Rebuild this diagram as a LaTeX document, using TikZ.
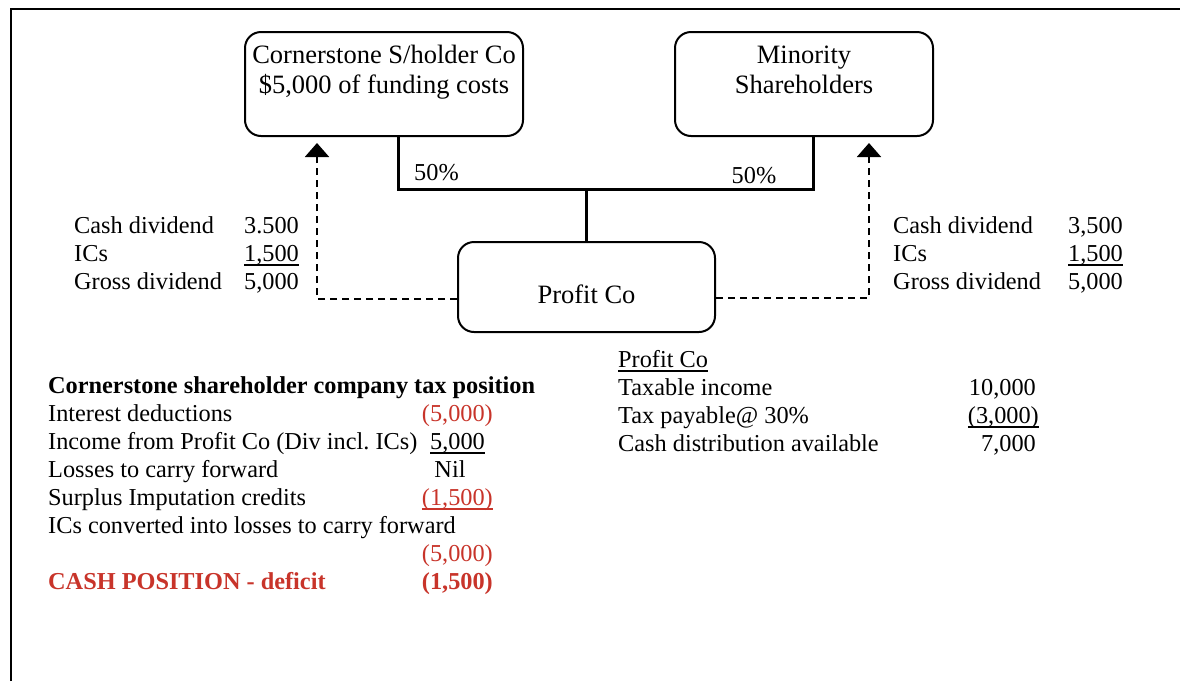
\documentclass[tikz,border=0pt]{standalone}
\usepackage{fontspec}
\setmainfont{Liberation Serif}
\usetikzlibrary{arrows.meta}
\definecolor{accred}{RGB}{200,52,42}
\frenchspacing
\newcommand{\myul}[1]{\setbox0\hbox{#1}\rlap{\rule[-4.5pt]{\wd0}{1.8pt}}\box0}
\begin{document}
\begin{tikzpicture}[x=1pt,y=-1pt,
  txt/.style={inner sep=0pt, font=\fontsize{24.3}{28}\selectfont\frenchspacing},
  lt/.style={txt, anchor=base west},
  rt/.style={txt, anchor=base east},
  ct/.style={txt, anchor=base},
  box/.style={draw, line width=2pt, rounded corners=16pt},
  boxtxt/.style={inner sep=0pt, anchor=base, font=\fontsize{26.5}{30}\selectfont},
  own/.style={line width=3pt},
  flow/.style={line width=2pt, dash pattern=on 7pt off 5pt, -{Triangle[width=24pt,length=14pt]}},
  neg/.style={text=accred},
]
\useasboundingbox (0,0) rectangle (1180,681);
\draw[line width=2pt] (11,681) -- (11,9) -- (1180,9);

% boxes
\node[box, minimum width=278pt, minimum height=104pt] (cs) at (384,84) {};
\node[box, minimum width=258pt, minimum height=104pt] (ms) at (804,84) {};
\node[box, minimum width=257pt, minimum height=90pt] (pc) at (586.5,287) {};
\node[boxtxt] (cs1) at (384,63) {Cornerstone S/holder Co};
\node[boxtxt] (cs2) at (384,93) {\$5,000 of funding costs};
\node[boxtxt] (ms1) at (804,63) {Minority};
\node[boxtxt] (ms2) at (804,93) {Shareholders};
\node[boxtxt] (pct) at (586.5,303) {Profit Co};

% ownership lines
\coordinate (jl) at (398,189);
\coordinate (jr) at (813,189);
\coordinate (jm) at (586.5,189);
\draw[own, line join=miter] (cs.south -| jl) -- (jl) -- (jr) -- (ms.south -| jr);
\draw[own] (jm) -- (pc.north);
\node[ct] (p1) at (436.5,180) {50\%};
\node[ct] (p2) at (754,183) {50\%};

% dividend flows
\coordinate (al) at (317,299);
\coordinate (tl) at (317,143);
\coordinate (ar) at (869,298);
\coordinate (tr) at (869,143);
\draw[flow] (pc.west |- al) -- (al) -- (tl);
\draw[flow] (pc.east |- ar) -- (ar) -- (tr);

% left dividend figures
\node[lt] (l1) at (74,233) {Cash dividend};
\node[rt] (l1v) at (299,233) {3.500};
\node[lt] (l2) at (74,261) {ICs};
\node[rt] (l2v) at (299,261) {\myul{1,500}};
\node[lt] (l3) at (74,289) {Gross dividend};
\node[rt] (l3v) at (299,289) {5,000};

% right dividend figures
\node[lt] (r1) at (893,233) {Cash dividend};
\node[rt] (r1v) at (1123,233) {3,500};
\node[lt] (r2) at (893,261) {ICs};
\node[rt] (r2v) at (1123,261) {\myul{1,500}};
\node[lt] (r3) at (893,289) {Gross dividend};
\node[rt] (r3v) at (1123,289) {5,000};

% Profit Co table
\node[lt] (t0) at (618,367) {\myul{Profit Co}};
\node[lt] (t1) at (618,395) {Taxable income};
\node[rt] (t1v) at (1036,395) {10,000};
\node[lt] (t2) at (618,423) {Tax payable@ 30\%};
\node[rt] (t2v) at (1039,423) {\myul{(3,000)}};
\node[lt] (t3) at (618,451) {Cash distribution available};
\node[rt] (t3v) at (1036,451) {7,000};

% Cornerstone table
\node[lt, font=\fontsize{24.3}{28}\selectfont\bfseries] (c0) at (48,393) {Cornerstone shareholder company tax position};
\node[lt] (c1) at (48,421) {Interest deductions};
\node[rt, neg] (c1v) at (493,421) {(5,000)};
\node[lt] (c2) at (48,449) {Income from Profit Co (Div incl. ICs)};
\node[rt] (c2v) at (485,449) {\myul{5,000}};
\node[lt] (c3) at (48,477) {Losses to carry forward};
\node[ct] (c3v) at (450,477) {Nil};
\node[lt] (c4) at (48,505) {Surplus Imputation credits};
\node[rt, neg] (c4v) at (493,505) {\myul{(1,500)}};
\node[lt] (c5) at (48,533) {ICs converted into losses to carry forward};
\node[rt, neg] (c6v) at (493,561) {(5,000)};
\node[lt, neg, font=\fontsize{24.3}{28}\selectfont\bfseries] (c7) at (48,589) {CASH POSITION - deficit};
\node[rt, neg, font=\fontsize{24.3}{28}\selectfont\bfseries] (c7v) at (493,589) {(1,500)};
\end{tikzpicture}
\end{document}
